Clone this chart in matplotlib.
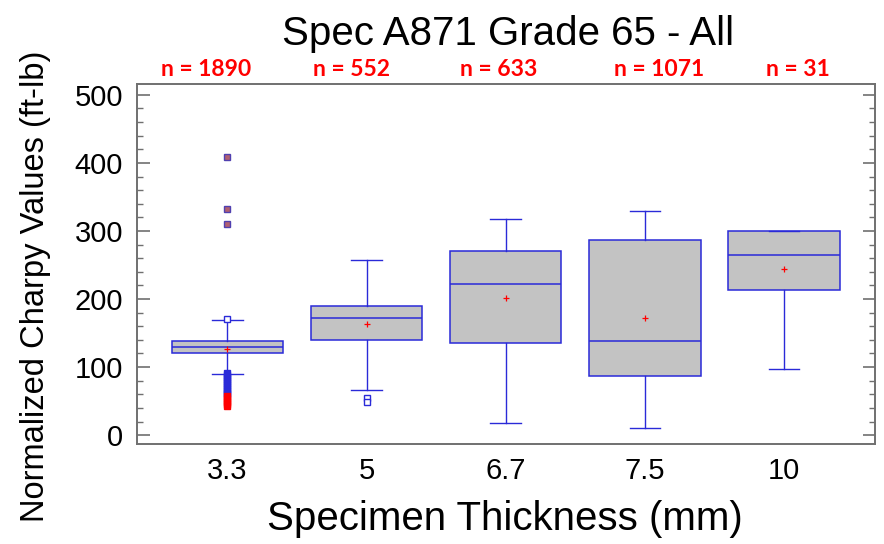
import numpy as np
import matplotlib.pyplot as plt

# Charpy box-plot data
thickness = ['3.3', '5', '6.7', '7.5', '10']
counts = [1890, 552, 633, 1071, 31]
q1 = [120, 140, 135, 87, 213]
median = [130, 172, 222, 139, 264]
q3 = [138, 190, 270, 287, 300]
whisker_lo = [90, 66, 18, 10, 97]
whisker_hi = [169, 258, 318, 329, 300]
means = [126, 164, 201, 172, 244]

# outliers (only the 3.3 mm and 5 mm groups have them)
open_out_pos = [1, 2, 2]
open_out_val = [171, 55, 48]
high_out_val = [408, 332, 311]          # 3.3 mm, far above
low_out_val = [92, 89, 86, 83, 80, 77, 74, 71, 68, 65, 62, 60]   # 3.3 mm, blue
far_out_val = [58, 55, 52, 49, 46, 43]  # 3.3 mm, red

plt.rcParams['font.family'] = ['Liberation Sans', 'DejaVu Sans']

fig = plt.figure(figsize=(8.84, 5.44), dpi=100)
ax = fig.add_axes([0.155, 0.1838, 0.835, 0.6618])

blue = '#2a2ad8'
stats = []
for i in range(len(thickness)):
    stats.append(dict(label=thickness[i], q1=q1[i], med=median[i], q3=q3[i],
                      whislo=whisker_lo[i], whishi=whisker_hi[i], mean=means[i]))

pos = np.arange(1, len(thickness) + 1)
ax.bxp(stats, positions=pos, widths=0.8, capwidths=0.22, patch_artist=True,
       showmeans=True, showfliers=False,
       boxprops=dict(facecolor='#c3c3c3', edgecolor=blue, lw=1.1),
       medianprops=dict(color=blue, lw=1.1),
       whiskerprops=dict(color=blue, lw=1.0),
       capprops=dict(color=blue, lw=1.0),
       meanprops=dict(marker='+', markeredgecolor='red', markersize=5, mew=0.9))

ax.plot(open_out_pos, open_out_val, 's', ms=5, mfc='white', mec=blue, mew=1.0)
ax.plot([1] * len(high_out_val), high_out_val, 's', ms=5, mfc='#b06070', mec='#5040b0', mew=1.0)
ax.plot([1] * len(low_out_val), low_out_val, 's', ms=4.5, mfc=blue, mec=blue)
ax.plot([1] * len(far_out_val), far_out_val, 's', ms=4.5, mfc='red', mec='red')

ax.set_xlim(0.35, 5.655)
ax.set_ylim(-13, 516)
ax.set_xticks(pos)
ax.set_xticklabels(thickness)
ax.set_yticks([0, 100, 200, 300, 400, 500])
ax.set_yticks(np.arange(0, 520, 20), minor=True)

for s in ax.spines.values():
    s.set_color('#707070')
    s.set_linewidth(1.4)
ax.tick_params(axis='y', which='both', direction='in', right=True, color='#707070',
               labelsize=21, pad=10)
ax.tick_params(axis='y', which='major', length=9, width=1.2)
ax.tick_params(axis='y', which='minor', length=4.5, width=1.0)
ax.tick_params(axis='x', length=0, labelsize=21, pad=9)

# sample counts above each box
n_xpos = [0.85, 1.89, 2.95, 4.10, 5.10]
for x, n in zip(n_xpos, counts):
    ax.text(x, 1.039, 'n = %d' % n, transform=ax.get_xaxis_transform(),
            ha='center', va='center', color='red', fontsize=16.5, fontweight='bold',
            family=['Lato', 'DejaVu Sans'])

fig.text(0.5747, 1 - 45 / 544, 'Spec A871 Grade 65 - All', ha='center',
         va='baseline', fontsize=29)
fig.text(505 / 884, 1 - 530 / 544, 'Specimen Thickness (mm)', ha='center',
         va='baseline', fontsize=29)
fig.text(0.040, 0.474, 'Normalized Charpy Values (ft-lb)', rotation=90,
         ha='center', va='center', fontsize=23.5)

fig.savefig('out.png', dpi=100)
